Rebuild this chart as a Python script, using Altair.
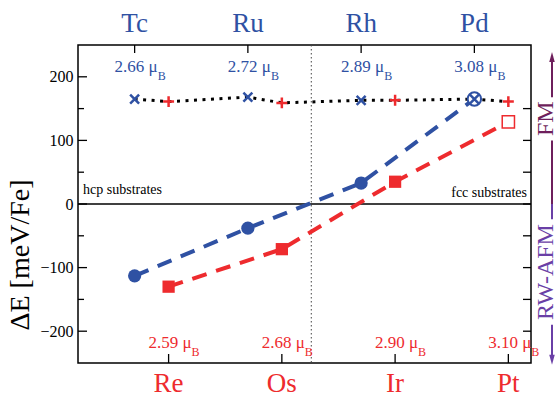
import altair as alt
import pandas as pd

# hcp substrates (top axis) and fcc substrates (bottom axis)
hcp_names = ["Tc", "Ru", "Rh", "Pd"]
hcp_pos = [0, 1, 2, 3]
hcp_moment = ["2.66", "2.72", "2.89", "3.08"]
hcp_afm = [-113, -38, 33, 165]
hcp_fm = [165, 168, 163, 165]
hcp_afm_filled = [True, True, True, False]

fcc_names = ["Re", "Os", "Ir", "Pt"]
fcc_pos = [0.3, 1.3, 2.3, 3.3]
fcc_moment = ["2.59", "2.68", "2.90", "3.10"]
fcc_afm = [-130, -71, 35, 129]
fcc_fm = [161, 159, 163, 161]
fcc_afm_filled = [True, True, True, False]

# where the hcp curve changes sign
crossover = 1.56

y_major = [-200, -100, 0, 100, 200]
y_minor = [-150, -50, 50, 150]

SERIF = "Liberation Serif"
BLUE = "#2f51a3"
RED = "#ee2b2e"
FM_COL = "#6e1f5c"
AFM_COL = "#6a3fa6"
XPATH = "M-1,-1L1,1M-1,1L1,-1"
PLUS = "M-1,0L1,0M0,-1L0,1"
ARROW_UP = "M0,-1L0.55,1L-0.55,1Z"
ARROW_DOWN = "M0,1L0.55,-1L-0.55,-1Z"

W, H = 453, 318

hcp = pd.DataFrame({"name": hcp_names, "pos": hcp_pos,
                    "moment": [m + " μ" for m in hcp_moment],
                    "afm": hcp_afm, "fm": hcp_fm, "filled": hcp_afm_filled})
fcc = pd.DataFrame({"name": fcc_names, "pos": fcc_pos,
                    "moment": [m + " μ" for m in fcc_moment],
                    "afm": fcc_afm, "fm": fcc_fm, "filled": fcc_afm_filled})
fm_all = pd.concat([hcp[["pos", "fm"]], fcc[["pos", "fm"]]]).sort_values("pos")
major = pd.DataFrame({"v": y_major})
minor = pd.DataFrame({"v": y_minor})
ticks_all = pd.DataFrame({"v": y_major[:-1] + y_minor})

xs = alt.Scale(domain=[-0.5, 3.5], nice=False, zero=False)
ys = alt.Scale(domain=[-250, 250], nice=False, zero=False)
yaxis = alt.Axis(
    title=None, values=y_major, ticks=False, domain=False, grid=False,
    labelFont=SERIF, labelFontSize=16, labelColor="black", labelPadding=5,
)


def X(f):
    return alt.X(f, type="quantitative", scale=xs, axis=None)


def Y(f):
    return alt.Y(f, type="quantitative", scale=ys, axis=yaxis)


def YD(v):
    return alt.YDatum(v, scale=ys, axis=yaxis)


base = alt.Chart(pd.DataFrame({"a": [0]}))

layers = []

# reference lines
layers.append(base.mark_rule(color="#444", strokeWidth=1, strokeDash=[1.5, 2.5]).encode(
    x=alt.XDatum(crossover, scale=xs, axis=None)))
layers.append(base.mark_rule(color="black", strokeWidth=1.3).encode(y=YD(0)))

# FM energies (dotted) and RW-AFM energies (dashed)
layers.append(alt.Chart(fm_all).mark_line(color="black", strokeWidth=3, strokeDash=[3, 5.5],
                                          strokeCap="butt").encode(x=X("pos"), y=Y("fm")))
layers.append(alt.Chart(hcp).mark_line(color=BLUE, strokeWidth=4, strokeDash=[15, 10]).encode(
    x=X("pos"), y=Y("afm")))
layers.append(alt.Chart(fcc).mark_line(color=RED, strokeWidth=4, strokeDash=[15, 10]).encode(
    x=X("pos"), y=Y("afm")))

# RW-AFM markers
layers.append(alt.Chart(hcp).transform_filter("datum.filled").mark_point(
    shape="circle", filled=True, color=BLUE, size=175, opacity=1).encode(x=X("pos"), y=Y("afm")))
layers.append(alt.Chart(hcp).transform_filter("!datum.filled").mark_point(
    shape="circle", filled=True, fill="white", stroke=BLUE, strokeWidth=2, size=180,
    opacity=1).encode(x=X("pos"), y=Y("afm")))
layers.append(alt.Chart(fcc).transform_filter("datum.filled").mark_point(
    shape="square", filled=True, color=RED, size=150, opacity=1).encode(x=X("pos"), y=Y("afm")))
layers.append(alt.Chart(fcc).transform_filter("!datum.filled").mark_point(
    shape="square", filled=True, fill="white", stroke=RED, strokeWidth=1.5, size=150,
    opacity=1).encode(x=X("pos"), y=Y("afm")))

# FM markers
layers.append(alt.Chart(hcp).mark_point(shape=XPATH, filled=False, color=BLUE, strokeWidth=2.5,
                                        size=80, opacity=1).encode(x=X("pos"), y=Y("fm")))
layers.append(alt.Chart(fcc).mark_point(shape=PLUS, filled=False, color=RED, strokeWidth=2.5,
                                        size=120, opacity=1).encode(x=X("pos"), y=Y("fm")))

# inward ticks on the frame
layers.append(alt.Chart(major).mark_rule(color="black", strokeWidth=1.3).encode(
    y=Y("v"), x=alt.value(0), x2=alt.value(9)))
layers.append(alt.Chart(minor).mark_rule(color="black", strokeWidth=1.3).encode(
    y=Y("v"), x=alt.value(0), x2=alt.value(6)))
layers.append(alt.Chart(ticks_all).mark_rule(color="black", strokeWidth=1.3).encode(
    y=Y("v"), x=alt.value(W), x2=alt.value(W - 8)))
layers.append(alt.Chart(hcp).mark_rule(color="black", strokeWidth=1.3).encode(
    x=X("pos"), y=alt.value(0), y2=alt.value(8)))
layers.append(alt.Chart(fcc).mark_rule(color="black", strokeWidth=1.3).encode(
    x=X("pos"), y=alt.value(H), y2=alt.value(H - 9)))

# y-axis title
layers.append(base.mark_text(font=SERIF, fontSize=28, color="black", angle=270, align="center",
                             baseline="middle", text="ΔE [meV/Fe]").encode(
    x=alt.value(-57), y=alt.value(210)))

# element names
layers.append(alt.Chart(hcp).mark_text(font=SERIF, fontSize=27, color=BLUE, align="center",
                                       baseline="alphabetic").encode(
    x=X("pos"), y=alt.value(-13), text="name"))
layers.append(alt.Chart(fcc).mark_text(font=SERIF, fontSize=27, color=RED, align="center",
                                       baseline="alphabetic").encode(
    x=X("pos"), y=alt.value(H + 29), text="name"))

# magnetic moments
for df, col, yv in [(hcp, BLUE, 207), (fcc, RED, -226)]:
    layers.append(alt.Chart(df).mark_text(font=SERIF, fontSize=17, color=col, align="right",
                                          baseline="alphabetic", dx=23).encode(
        x=X("pos"), y=YD(yv), text="moment"))
    layers.append(alt.Chart(df).mark_text(font=SERIF, fontSize=12, color=col, align="left",
                                          baseline="alphabetic", dx=23, dy=8, text="B").encode(
        x=X("pos"), y=YD(yv)))

# substrate labels
layers.append(base.mark_text(font=SERIF, fontSize=14, color="black", align="left",
                             baseline="alphabetic", text="hcp substrates").encode(
    x=alt.XDatum(-0.455, scale=xs, axis=None), y=YD(16)))
layers.append(base.mark_text(font=SERIF, fontSize=14, color="black", align="right",
                             baseline="alphabetic", text="fcc substrates").encode(
    x=alt.XDatum(3.465, scale=xs, axis=None), y=YD(11)))

# FM / RW-AFM arrows beside the frame
AX = W + 21
fm_seg = pd.DataFrame({"y0": [0, 168], "y1": [100, 230]})
afm_seg = pd.DataFrame({"y0": [0, -190], "y1": [-24, -240]})
layers.append(alt.Chart(fm_seg).mark_rule(color=FM_COL, strokeWidth=2).encode(
    x=alt.value(AX), y=Y("y0"), y2="y1"))
layers.append(alt.Chart(afm_seg).mark_rule(color=AFM_COL, strokeWidth=2).encode(
    x=alt.value(AX), y=Y("y0"), y2="y1"))
layers.append(base.mark_point(shape=ARROW_UP, filled=True, color=FM_COL, size=100,
                              opacity=1).encode(x=alt.value(AX), y=YD(231)))
layers.append(base.mark_point(shape=ARROW_DOWN, filled=True, color=AFM_COL, size=100,
                              opacity=1).encode(x=alt.value(AX), y=YD(-245)))
layers.append(base.mark_text(font=SERIF, fontSize=24, color=FM_COL, angle=270, align="center",
                             baseline="middle", text="FM").encode(
    x=alt.value(AX - 6), y=YD(134)))
layers.append(base.mark_text(font=SERIF, fontSize=24, color=AFM_COL, angle=270, align="center",
                             baseline="middle", text="RW-AFM").encode(
    x=alt.value(AX - 6), y=YD(-107)))

chart = alt.layer(*layers).properties(
    width=W, height=H,
    autosize=alt.AutoSizeParams(type="none"),
    padding={"left": 78, "top": 45, "right": 27, "bottom": 35},
    background="white",
).configure_view(stroke="black", strokeWidth=1.5)

chart.save("out.html", embed_options={"renderer": "svg", "actions": False})
